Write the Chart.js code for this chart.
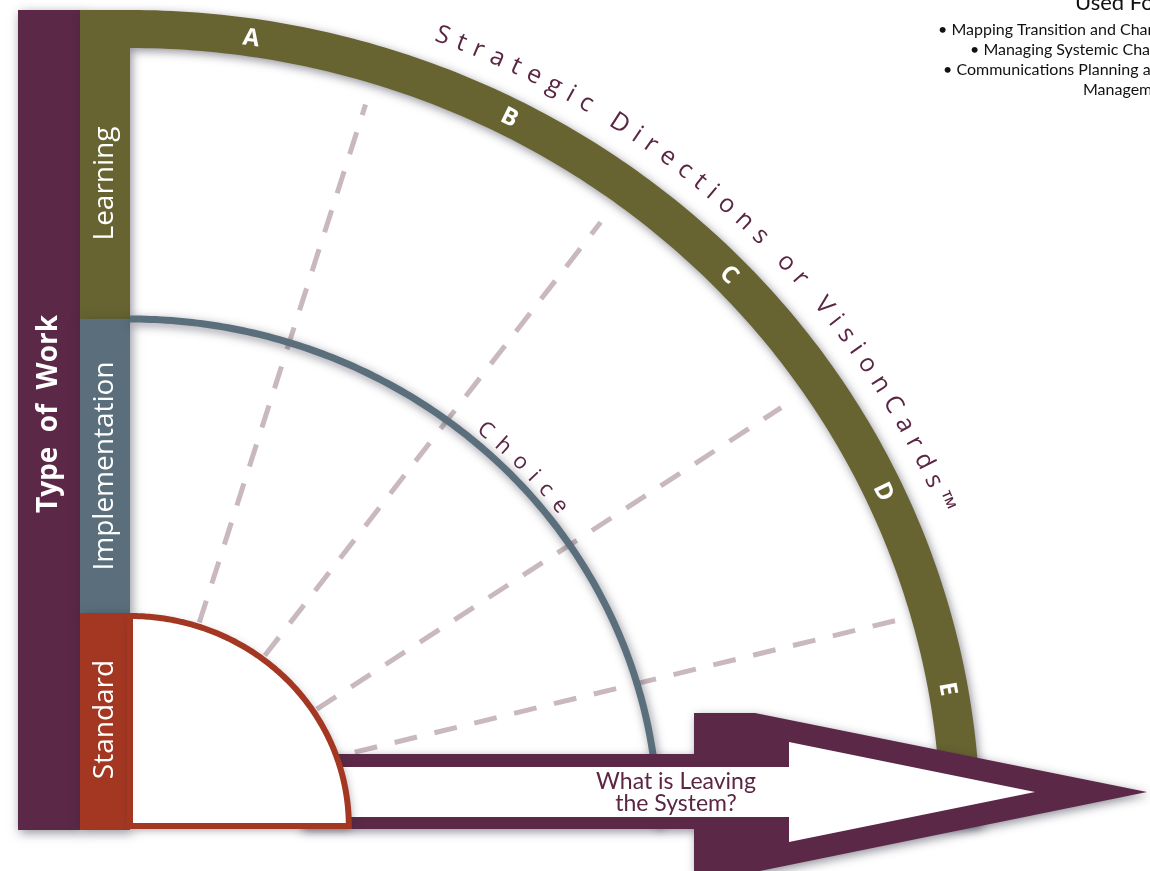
<!DOCTYPE html>
<html>
<head>
<meta charset="utf-8">
<title>Type of Work</title>
<script src="https://cdn.jsdelivr.net/npm/chart.js@4.4.1/dist/chart.umd.min.js"></script>
<style>
html, body { margin: 0; padding: 0; background: #fff; overflow: hidden; }
#wrap { width: 1150px; height: 871px; position: relative; }
</style>
</head>
<body>
<div id="wrap"><canvas id="diagram"></canvas></div>
<script>
// --- values (radii and angles in diagram units / degrees) ---
const levels = ['Standard', 'Implementation', 'Learning'];
const levelRadius = [213, 507, 816];
const bandInnerRadius = 778;
const letters = ['A', 'B', 'C', 'D', 'E'];
const letterAngles = [81.6, 62.8, 43.8, 24.8, 9.9];
const spokeAngleIn = [71.9, 52.8, 33.1, 18.9];
const spokeAngleOut = [72.6, 53.2, 33.8, 15.6];
const spokeRadiusIn = [214, 214, 214, 228];
const spokeRadiusOut = [756, 754, 752, 774];
const usedFor = ['• Mapping Transition and Change', '• Managing Systemic Change', '• Communications Planning and', 'Management'];

const W = 1150, H = 871;
const CX = 130, CY = 826, STRETCH = 1.042;
const PURPLE = '#5c2847';
const OLIVE = '#676431';
const SLATE = '#5a6f7b';
const RUST = '#a33722';
const DASH = '#c9b8bd';
const INK = '#5a2643';

function polar(r, deg) {
    const a = deg * Math.PI / 180;
    return { x: CX + STRETCH * r * Math.cos(a), y: CY - r * Math.sin(a) };
}

const spokeSets = spokeAngleIn.map((a, i) => ({
    data: [polar(spokeRadiusIn[i], a), polar(spokeRadiusOut[i], spokeAngleOut[i])],
    showLine: true,
    borderColor: DASH,
    borderWidth: 5,
    borderDash: [23, 18],
    pointRadius: 0,
    fill: false
}));

function shadowed(ctx, fn) {
    ctx.save();
    ctx.shadowColor = 'rgba(40, 40, 60, 0.5)';
    ctx.shadowBlur = 10;
    ctx.shadowOffsetX = 2;
    ctx.shadowOffsetY = 3;
    fn();
    ctx.restore();
}

function arcPath(ctx, toPx, r, from, to, first) {
    const steps = 160;
    for (let i = 0; i <= steps; i++) {
        const p = toPx(polar(r, from + (to - from) * i / steps));
        if (i === 0 && first) ctx.moveTo(p.x, p.y);
        else ctx.lineTo(p.x, p.y);
    }
}

function arcText(ctx, toPx, text, r, a0, a1, font, color) {
    ctx.save();
    ctx.font = font;
    ctx.fillStyle = color;
    ctx.textAlign = 'center';
    ctx.textBaseline = 'alphabetic';
    const chars = [...text];
    const w = chars.map(c => ctx.measureText(c).width);
    const cum = [];
    let acc = 0;
    chars.forEach((c, i) => { cum.push(acc + w[i] / 2); acc += w[i]; });
    const natural = cum[cum.length - 1] - cum[0];
    const span = (a0 - a1) * Math.PI / 180 * r * (1 + STRETCH) / 2;
    const gap = (span - natural) / (chars.length - 1);
    chars.forEach((c, i) => {
        const t = cum[i] - cum[0] + i * gap;
        const deg = a0 - (t / span) * (a0 - a1);
        const a = deg * Math.PI / 180;
        const p = toPx(polar(r, deg));
        ctx.save();
        ctx.translate(p.x, p.y);
        ctx.rotate(Math.atan2(Math.cos(a), STRETCH * Math.sin(a)));
        ctx.fillText(c, 0, 0);
        ctx.restore();
    });
    ctx.restore();
}

function vText(ctx, text, x, y, font, color) {
    ctx.save();
    ctx.translate(x, y);
    ctx.rotate(-Math.PI / 2);
    ctx.font = font;
    ctx.fillStyle = color;
    ctx.textAlign = 'center';
    ctx.textBaseline = 'middle';
    ctx.fillText(text, 0, 0);
    ctx.restore();
}

function poly(ctx, toPx, pts) {
    ctx.beginPath();
    pts.forEach((q, i) => {
        const p = toPx({ x: q[0], y: q[1] });
        if (i === 0) ctx.moveTo(p.x, p.y); else ctx.lineTo(p.x, p.y);
    });
    ctx.closePath();
}

function pxFn(chart) {
    const xs = chart.scales.x, ys = chart.scales.y;
    return p => ({ x: xs.getPixelForValue(p.x), y: ys.getPixelForValue(p.y) });
}

const diagramPlugin = {
    id: 'diagram',
    beforeDatasetsDraw(chart) {
        const ctx = chart.ctx;
        const toPx = pxFn(chart);
        const rOut = levelRadius[2], rImpl = levelRadius[1], rStd = levelRadius[0];
        ctx.save();
        ctx.fillStyle = '#fff';
        ctx.fillRect(0, 0, chart.width, chart.height);
        ctx.restore();

        // Type of Work bar
        shadowed(ctx, () => {
            ctx.fillStyle = PURPLE;
            poly(ctx, toPx, [[18, CY - rOut], [80, CY - rOut], [80, CY + 4], [18, CY + 4]]);
            ctx.fill();
        });

        // Learning band + Strategic Directions arc
        shadowed(ctx, () => {
            ctx.fillStyle = OLIVE;
            ctx.beginPath();
            let p = toPx({ x: 80, y: CY - rImpl });
            ctx.moveTo(p.x, p.y);
            p = toPx({ x: 80, y: CY - rOut });
            ctx.lineTo(p.x, p.y);
            arcPath(ctx, toPx, rOut, 90, 0, false);
            arcPath(ctx, toPx, bandInnerRadius, 0, 90, false);
            p = toPx({ x: CX, y: CY - rImpl });
            ctx.lineTo(p.x, p.y);
            ctx.closePath();
            ctx.fill();
        });

        // Implementation band
        shadowed(ctx, () => {
            ctx.fillStyle = SLATE;
            poly(ctx, toPx, [[80, CY - rImpl], [CX, CY - rImpl], [CX, CY - rStd], [80, CY - rStd]]);
            ctx.fill();
        });
    },
    afterDatasetsDraw(chart) {
        const ctx = chart.ctx;
        const toPx = pxFn(chart);
        const rImpl = levelRadius[1], rStd = levelRadius[0];

        // Choice arc
        shadowed(ctx, () => {
            ctx.strokeStyle = SLATE;
            ctx.lineWidth = 7;
            ctx.beginPath();
            arcPath(ctx, toPx, rImpl, 90, 0, true);
            ctx.stroke();
        });

        // What is Leaving arrow
        shadowed(ctx, () => {
            ctx.fillStyle = PURPLE;
            poly(ctx, toPx, [[300, 754], [694, 754], [694, 713], [755, 713], [1147, 792], [755, 872], [694, 872], [694, 829], [300, 829]]);
            ctx.fill();
        });
        ctx.fillStyle = '#fff';
        poly(ctx, toPx, [[330, 767], [789, 767], [789, 742], [1035, 792], [789, 842], [789, 817], [330, 817]]);
        ctx.fill();

        // Standard band and quarter
        shadowed(ctx, () => {
            ctx.fillStyle = RUST;
            poly(ctx, toPx, [[80, CY - rStd], [CX, CY - rStd], [CX, CY + 4], [80, CY + 4]]);
            ctx.fill();
        });
        shadowed(ctx, () => {
            ctx.beginPath();
            const c = toPx({ x: CX, y: CY });
            ctx.moveTo(c.x, c.y);
            arcPath(ctx, toPx, rStd - 3, 90, 0, false);
            ctx.closePath();
            ctx.fillStyle = '#fff';
            ctx.fill();
        });
        ctx.save();
        ctx.beginPath();
        const c = toPx({ x: CX, y: CY });
        ctx.moveTo(c.x, c.y);
        arcPath(ctx, toPx, rStd - 3, 90, 0, false);
        ctx.closePath();
        ctx.strokeStyle = RUST;
        ctx.lineWidth = 6;
        ctx.lineJoin = 'miter';
        ctx.stroke();
        ctx.restore();

        // vertical labels
        vText(ctx, 'Type  of  Work', 49, 414, 'bold 28px "Open Sans"', '#fff');
        vText(ctx, levels[2], 105, CY - (levelRadius[1] + bandInnerRadius) / 2, '28px "Open Sans"', '#fff');
        vText(ctx, levels[1], 105, CY - (levelRadius[0] + levelRadius[1]) / 2, '28px "Open Sans"', '#fff');
        vText(ctx, levels[0], 105, CY - levelRadius[0] / 2, '28px "Open Sans"', '#fff');

        // letters on the band
        ctx.save();
        ctx.font = 'bold 24px "Open Sans"';
        ctx.fillStyle = '#fff';
        ctx.textAlign = 'center';
        ctx.textBaseline = 'middle';
        letters.forEach((l, i) => {
            const a = letterAngles[i] * Math.PI / 180;
            const p = toPx(polar((bandInnerRadius + levelRadius[2]) / 2, letterAngles[i]));
            ctx.save();
            ctx.translate(p.x, p.y);
            ctx.rotate(Math.atan2(Math.cos(a), STRETCH * Math.sin(a)));
            ctx.fillText(l, 0, 1);
            ctx.restore();
        });
        ctx.restore();

        // curved titles
        arcText(ctx, toPx, 'Strategic Directions or VisionCards\u2122', 838, 69.2, 22.5, '25px "Open Sans"', INK);
        arcText(ctx, toPx, 'Choice', 516, 49.2, 37.8, '22px "Open Sans"', INK);

        // arrow caption
        ctx.save();
        ctx.font = '23px Lato';
        ctx.fillStyle = INK;
        ctx.textAlign = 'center';
        ctx.fillText('What is Leaving', 676, 789);
        ctx.fillText('the System?', 676, 811);
        ctx.restore();

        // Used For notes
        ctx.save();
        ctx.fillStyle = '#111';
        ctx.font = '22px Lato';
        ctx.fillText('Used For:', 1075, 10);
        ctx.font = '16px Lato';
        const noteX = [938, 970, 943, 1083];
        usedFor.forEach((t, i) => ctx.fillText(t, noteX[i], 35 + i * 20));
        ctx.restore();
    }
};

new Chart(document.getElementById('diagram'), {
    type: 'scatter',
    data: { datasets: spokeSets },
    options: {
        responsive: true,
        maintainAspectRatio: false,
        animation: false,
        layout: { padding: 0 },
        scales: {
            x: { type: 'linear', min: 0, max: W, display: false },
            y: { type: 'linear', min: 0, max: H, reverse: true, display: false }
        },
        plugins: {
            legend: { display: false },
            tooltip: { enabled: false }
        }
    },
    plugins: [diagramPlugin]
});
</script>
</body>
</html>
